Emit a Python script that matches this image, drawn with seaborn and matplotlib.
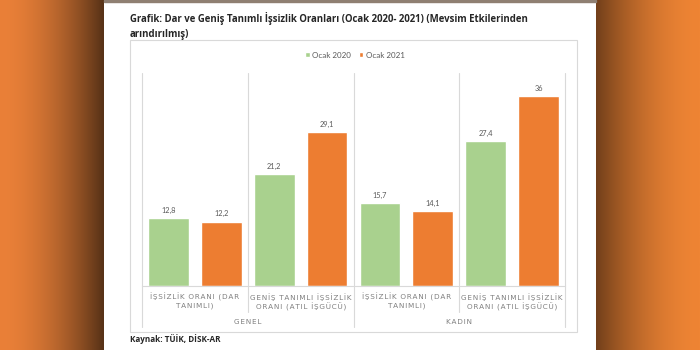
import numpy as np
import pandas as pd
import matplotlib
matplotlib.use("Agg")
import matplotlib.pyplot as plt
from matplotlib.patches import Rectangle
import seaborn as sns

# ---- data ----
groups = ["GENEL", "KADIN"]
categories = ["İŞSİZLİK ORANI (DAR\nTANIMLI)",
              "GENİŞ TANIMLI İŞSİZLİK\nORANI (ATIL İŞGÜCÜ)",
              "İŞSİZLİK ORANI (DAR\nTANIMLI)",
              "GENİŞ TANIMLI İŞSİZLİK\nORANI (ATIL İŞGÜCÜ)"]
series = ["Ocak 2020", "Ocak 2021"]
ocak_2020 = [12.8, 21.2, 15.7, 27.4]
ocak_2021 = [12.2, 29.1, 14.1, 36]
title = "Grafik: Dar ve Geniş Tanımlı İşsizlik Oranları (Ocak 2020- 2021) (Mevsim Etkilerinden\narındırılmış)"
source = "Kaynak: TÜİK, DİSK-AR"

keys = [f"c{i}" for i in range(len(categories))]
df = pd.DataFrame({
    "key": keys * 2,
    "series": [series[0]] * 4 + [series[1]] * 4,
    "value": ocak_2020 + ocak_2021,
})


def tracked(s):
    # letter spacing as in the reference (hair spaces between letters)
    return "\n".join("\u200a".join(line) for line in s.split("\n"))


sns.set_theme(style="white")
plt.rcParams["font.family"] = ["Lato", "DejaVu Sans"]

W, H = 700, 350
fig = plt.figure(figsize=(7, 3.5), dpi=100)

def fx(px):
    return px / W

def fy(py):
    return 1 - py / H

# ---- background gradient ----
bg = fig.add_axes([0, 0, 1, 1], zorder=-10)
bg.set_axis_off()
img = np.ones((2, W, 3))
orange_l = np.array([234, 128, 56]) / 255
dark_l = np.array([84, 48, 22]) / 255
orange_r = np.array([238, 132, 52]) / 255
dark_r = np.array([112, 62, 26]) / 255
for x in range(W):
    if x < 104:
        t = (x / 104) ** 1.8
        img[:, x] = orange_l * (1 - t) + dark_l * t
    elif x >= 596:
        t = ((699 - x) / 104) ** 1.8
        img[:, x] = orange_r * (1 - t) + dark_r * t
bg.imshow(img, aspect="auto", extent=[0, 1, 0, 1], interpolation="bilinear")
bg.set_xlim(0, 1)
bg.set_ylim(0, 1)
bg.add_patch(Rectangle((fx(104), fy(2)), fx(492), fy(0) - fy(2),
                       color="#8f7f72", transform=bg.transAxes))

# chart box
fig.patches.append(Rectangle((fx(130), fy(332)), fx(447), fy(40) - fy(332),
                             transform=fig.transFigure, facecolor="white",
                             edgecolor="#d9d9d9", lw=0.8, zorder=-5))

# ---- main axes ----
ax = fig.add_axes([fx(142), fy(286), fx(423), fy(73) - fy(286)])
sns.barplot(data=df, x="key", y="value", hue="series", order=keys,
            palette=["#A9D18E", "#ED7D31"], width=1.0, gap=0.23,
            saturation=1, ax=ax, legend=True)
ax.set_xlim(-0.5, 3.5)
ax.set_ylim(0, 40.3)
ax.set_yticks([])
ax.set_xlabel("")
ax.set_ylabel("")
for s in ["left", "right", "top"]:
    ax.spines[s].set_visible(False)
ax.spines["bottom"].set_color("#d9d9d9")
ax.spines["bottom"].set_linewidth(0.8)

for cont in ax.containers:
    labels = [f"{v:g}".replace(".", ",") for v in cont.datavalues]
    ax.bar_label(cont, labels=labels, padding=3, fontsize=5.3, color="#595959")

ax.set_xticks(range(4))
ax.set_xticklabels([tracked(c) for c in categories])
for lbl in ax.get_xticklabels():
    lbl.set_fontfamily("DejaVu Sans")
    lbl.set_fontsize(5.2)
    lbl.set_color("#7f7f7f")
    lbl.set_linespacing(1.3)
ax.tick_params(axis="x", length=0, pad=5)

# separators
for i, b in enumerate([-0.5, 0.5, 1.5, 2.5, 3.5]):
    low = -0.1925 if i % 2 == 0 else -0.122
    ax.axvline(b, ymin=low, ymax=1, color="#d9d9d9", lw=0.8, clip_on=False)

# group labels
for gi, g in enumerate(groups):
    ax.text(gi * 2 + 0.5, -36 / 213 * 40.3, tracked(g), ha="center", va="center",
            fontsize=5.2, color="#7f7f7f", fontfamily="DejaVu Sans")

sns.move_legend(ax, "center", bbox_to_anchor=(fx(355), fy(55)),
                bbox_transform=fig.transFigure, ncol=2, frameon=False,
                title=None, fontsize=5.8, handlelength=0.55, handleheight=0.55,
                handletextpad=0.3, columnspacing=1.0)
for t in ax.get_legend().get_texts():
    t.set_color("#595959")

# title and source
fig.text(fx(130), fy(12), title, ha="left", va="top", fontsize=6.9,
         fontweight="bold", color="#262626", linespacing=1.45,
         family=["Open Sans", "DejaVu Sans"])
fig.text(fx(130), fy(339), source, ha="left", va="center", fontsize=5.9,
         fontweight="bold", color="#262626", family=["Open Sans", "DejaVu Sans"])

fig.savefig("out.png", dpi=100)
